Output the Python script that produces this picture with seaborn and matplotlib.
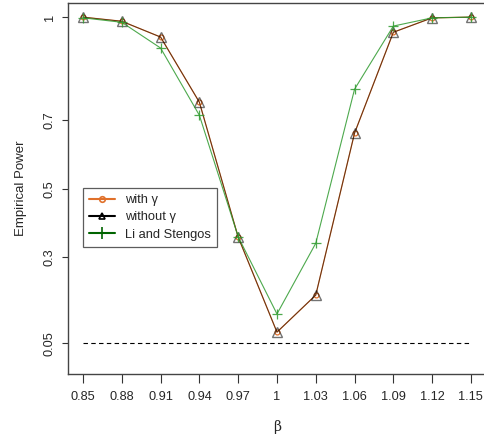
import matplotlib
matplotlib.use("Agg")
import matplotlib.pyplot as plt
from matplotlib.lines import Line2D
import seaborn as sns

# Empirical power of the tests over the grid of beta values
beta = [0.85, 0.88, 0.91, 0.94, 0.97, 1.00, 1.03, 1.06, 1.09, 1.12, 1.15]
beta_labels = ["0.85", "0.88", "0.91", "0.94", "0.97", "1", "1.03", "1.06", "1.09", "1.12", "1.15"]
with_gamma = [1.000, 0.988, 0.942, 0.752, 0.359, 0.082, 0.190, 0.662, 0.956, 0.998, 1.000]
without_gamma = [1.000, 0.988, 0.942, 0.752, 0.359, 0.082, 0.190, 0.662, 0.956, 0.998, 1.000]
li_stengos = [0.998, 0.985, 0.910, 0.714, 0.360, 0.135, 0.341, 0.790, 0.974, 0.998, 1.000]
y_ticks = [0.05, 0.3, 0.5, 0.7, 1.0]
y_tick_labels = ["0.05", "0.3", "0.5", "0.7", "1"]
nominal_level = 0.05

sns.set_style("white")
plt.rcParams["font.family"] = ["Liberation Sans", "DejaVu Sans"]

ORANGE = "#E0702A"
BLACK = "#000000"
GREEN = "#2E9A2E"

fig = plt.figure(figsize=(4.84, 4.40), dpi=100)
ax = fig.add_axes([0.1405, 0.150, 0.8635, 0.843])

sns.lineplot(x=beta, y=with_gamma, ax=ax, color=ORANGE, lw=0.9,
             marker="o", markersize=3.5, markerfacecolor="none",
             markeredgecolor=ORANGE, markeredgewidth=0.9)
sns.lineplot(x=beta, y=without_gamma, ax=ax, color=BLACK, lw=0.7, alpha=0.55,
             marker="^", markersize=6.5, markerfacecolor="none",
             markeredgecolor=BLACK, markeredgewidth=1.0)
sns.lineplot(x=beta, y=li_stengos, ax=ax, color=GREEN, lw=0.8, alpha=0.85,
             marker="+", markersize=7, markeredgecolor=GREEN, markeredgewidth=0.9)

ax.plot([beta[0], beta[-1]], [nominal_level, nominal_level], color="black",
        lw=0.8, ls=(0, (4, 3)))

ax.set_xlim(0.8384, 1.1616)
ax.set_ylim(-0.040, 1.041)
ax.set_xticks(beta)
ax.set_xticklabels(beta_labels, fontsize=9.2)
ax.set_yticks(y_ticks)
ax.set_yticklabels(y_tick_labels, fontsize=9.2, rotation=90, va="center")
ax.tick_params(axis="x", bottom=True, direction="out", length=6.3, width=0.8,
               color="#333333", pad=6.0)
ax.tick_params(axis="y", left=True, direction="out", length=4.0, width=0.8,
               color="#333333", pad=5)
for sp in ax.spines.values():
    sp.set_visible(True)
    sp.set_color("#444444")
    sp.set_linewidth(1.0)

ax.set_xlabel("β", fontsize=10, family=["DejaVu Serif"], labelpad=12)
ax.set_ylabel("Empirical Power", fontsize=9.5, labelpad=12)

handles = [
    Line2D([], [], color=ORANGE, lw=1.5, marker="o", markersize=4,
           markerfacecolor="none", markeredgecolor=ORANGE, markeredgewidth=1.2),
    Line2D([], [], color=BLACK, lw=1.5, marker="^", markersize=5,
           markerfacecolor="none", markeredgecolor=BLACK, markeredgewidth=1.2),
    Line2D([], [], color="#006400", lw=1.5, marker="+", markersize=8,
           markeredgecolor="#006400", markeredgewidth=1.2),
]
labels = ["with γ", "without γ", "Li and Stengos"]
leg = ax.legend(handles, labels, loc="upper left", bbox_to_anchor=(0.036, 0.501),
                borderaxespad=0, fontsize=9.3, frameon=True, fancybox=False,
                edgecolor="#333333", handlelength=2.0, handletextpad=0.8,
                labelspacing=0.42, borderpad=0.45)
leg.get_frame().set_linewidth(0.9)

fig.savefig("out.png", dpi=100)
